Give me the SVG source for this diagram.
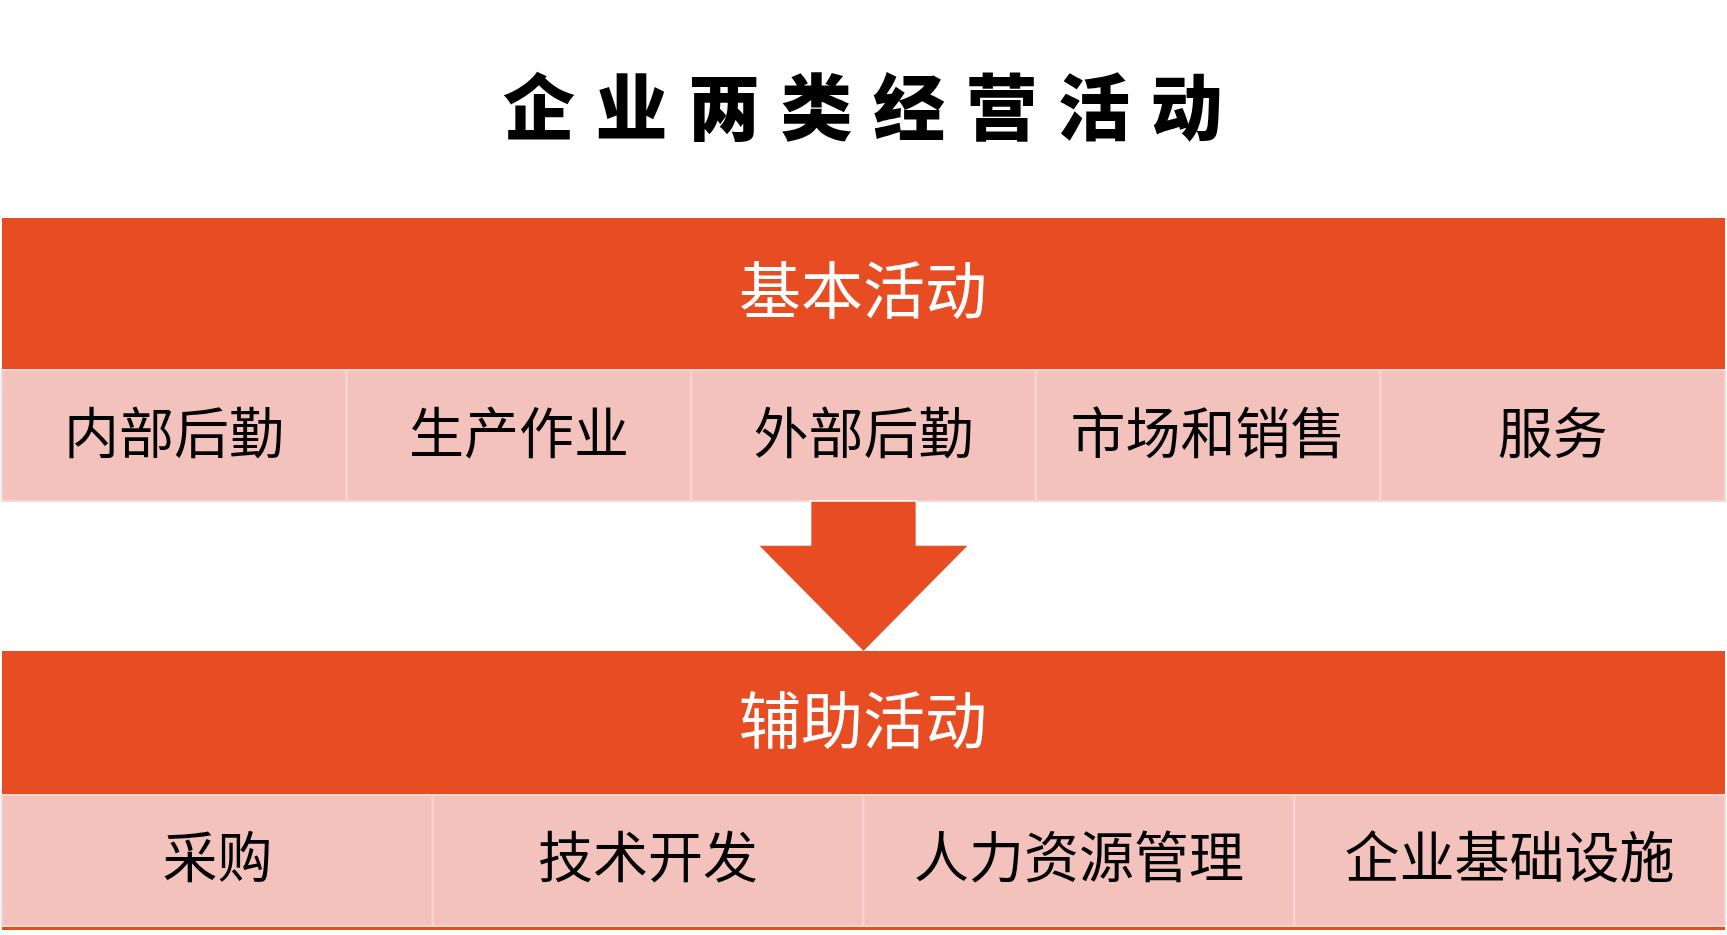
<svg xmlns="http://www.w3.org/2000/svg" width="1727" height="935" viewBox="0 0 1727 935">
<style>
.band{fill:#E74C23}
.cell{fill:#F4C2BC;stroke:#F8D6D1;stroke-width:2}
.title{font-family:"Noto Sans CJK SC","Noto Sans CJK TC",sans-serif;font-weight:900;font-size:72px;fill:#000}
.head{font-family:"Noto Sans CJK SC",sans-serif;font-size:62px;fill:#fff;text-anchor:middle}
.lbl{font-family:"Noto Sans CJK SC",sans-serif;font-size:55px;fill:#000;text-anchor:middle}
</style>
<rect width="1727" height="935" fill="#fff"/>
<g id="title"><text class="title" x="503" y="134" letter-spacing="20.5">企业两类经营活动</text></g>
<g id="primary">
<rect class="band" x="2" y="218" width="1723" height="152"/>
<text class="head" x="863" y="314">基本活动</text>
</g>
<g id="primary-items">
<g id="p1"><rect class="cell" x="2" y="370" width="344.6" height="131"/><text class="lbl" x="174" y="453">内部后勤</text></g>
<g id="p2"><rect class="cell" x="346.6" y="370" width="344.6" height="131"/><text class="lbl" x="519" y="453">生产作业</text></g>
<g id="p3"><rect class="cell" x="691.2" y="370" width="344.6" height="131"/><text class="lbl" x="863.5" y="453">外部后勤</text></g>
<g id="p4"><rect class="cell" x="1035.8" y="370" width="344.6" height="131"/><text class="lbl" x="1208" y="453">市场和销售</text></g>
<g id="p5"><rect class="cell" x="1380.4" y="370" width="344.6" height="131"/><text class="lbl" x="1552.7" y="453">服务</text></g>
</g>
<g id="connectors">
<polygon points="810.6,501 916.4,501 916.4,545 969.2,545 863.5,652 757.8,545 810.6,545" fill="#E74C23" stroke="#fff" stroke-width="1.5"/>
</g>
<g id="support">
<rect class="band" x="2" y="651" width="1723" height="144"/>
<text class="head" x="863" y="744">辅助活动</text>
</g>
<g id="support-items">
<g id="s1"><rect class="cell" x="2" y="795" width="430.75" height="131"/><text class="lbl" x="217.4" y="877">采购</text></g>
<g id="s2"><rect class="cell" x="432.75" y="795" width="430.75" height="131"/><text class="lbl" x="648" y="877">技术开发</text></g>
<g id="s3"><rect class="cell" x="863.5" y="795" width="430.75" height="131"/><text class="lbl" x="1078.9" y="877">人力资源管理</text></g>
<g id="s4"><rect class="cell" x="1294.25" y="795" width="430.75" height="131"/><text class="lbl" x="1509.6" y="877">企业基础设施</text></g>
</g>
<rect class="band" x="2" y="927" width="1723" height="3"/>
</svg>
